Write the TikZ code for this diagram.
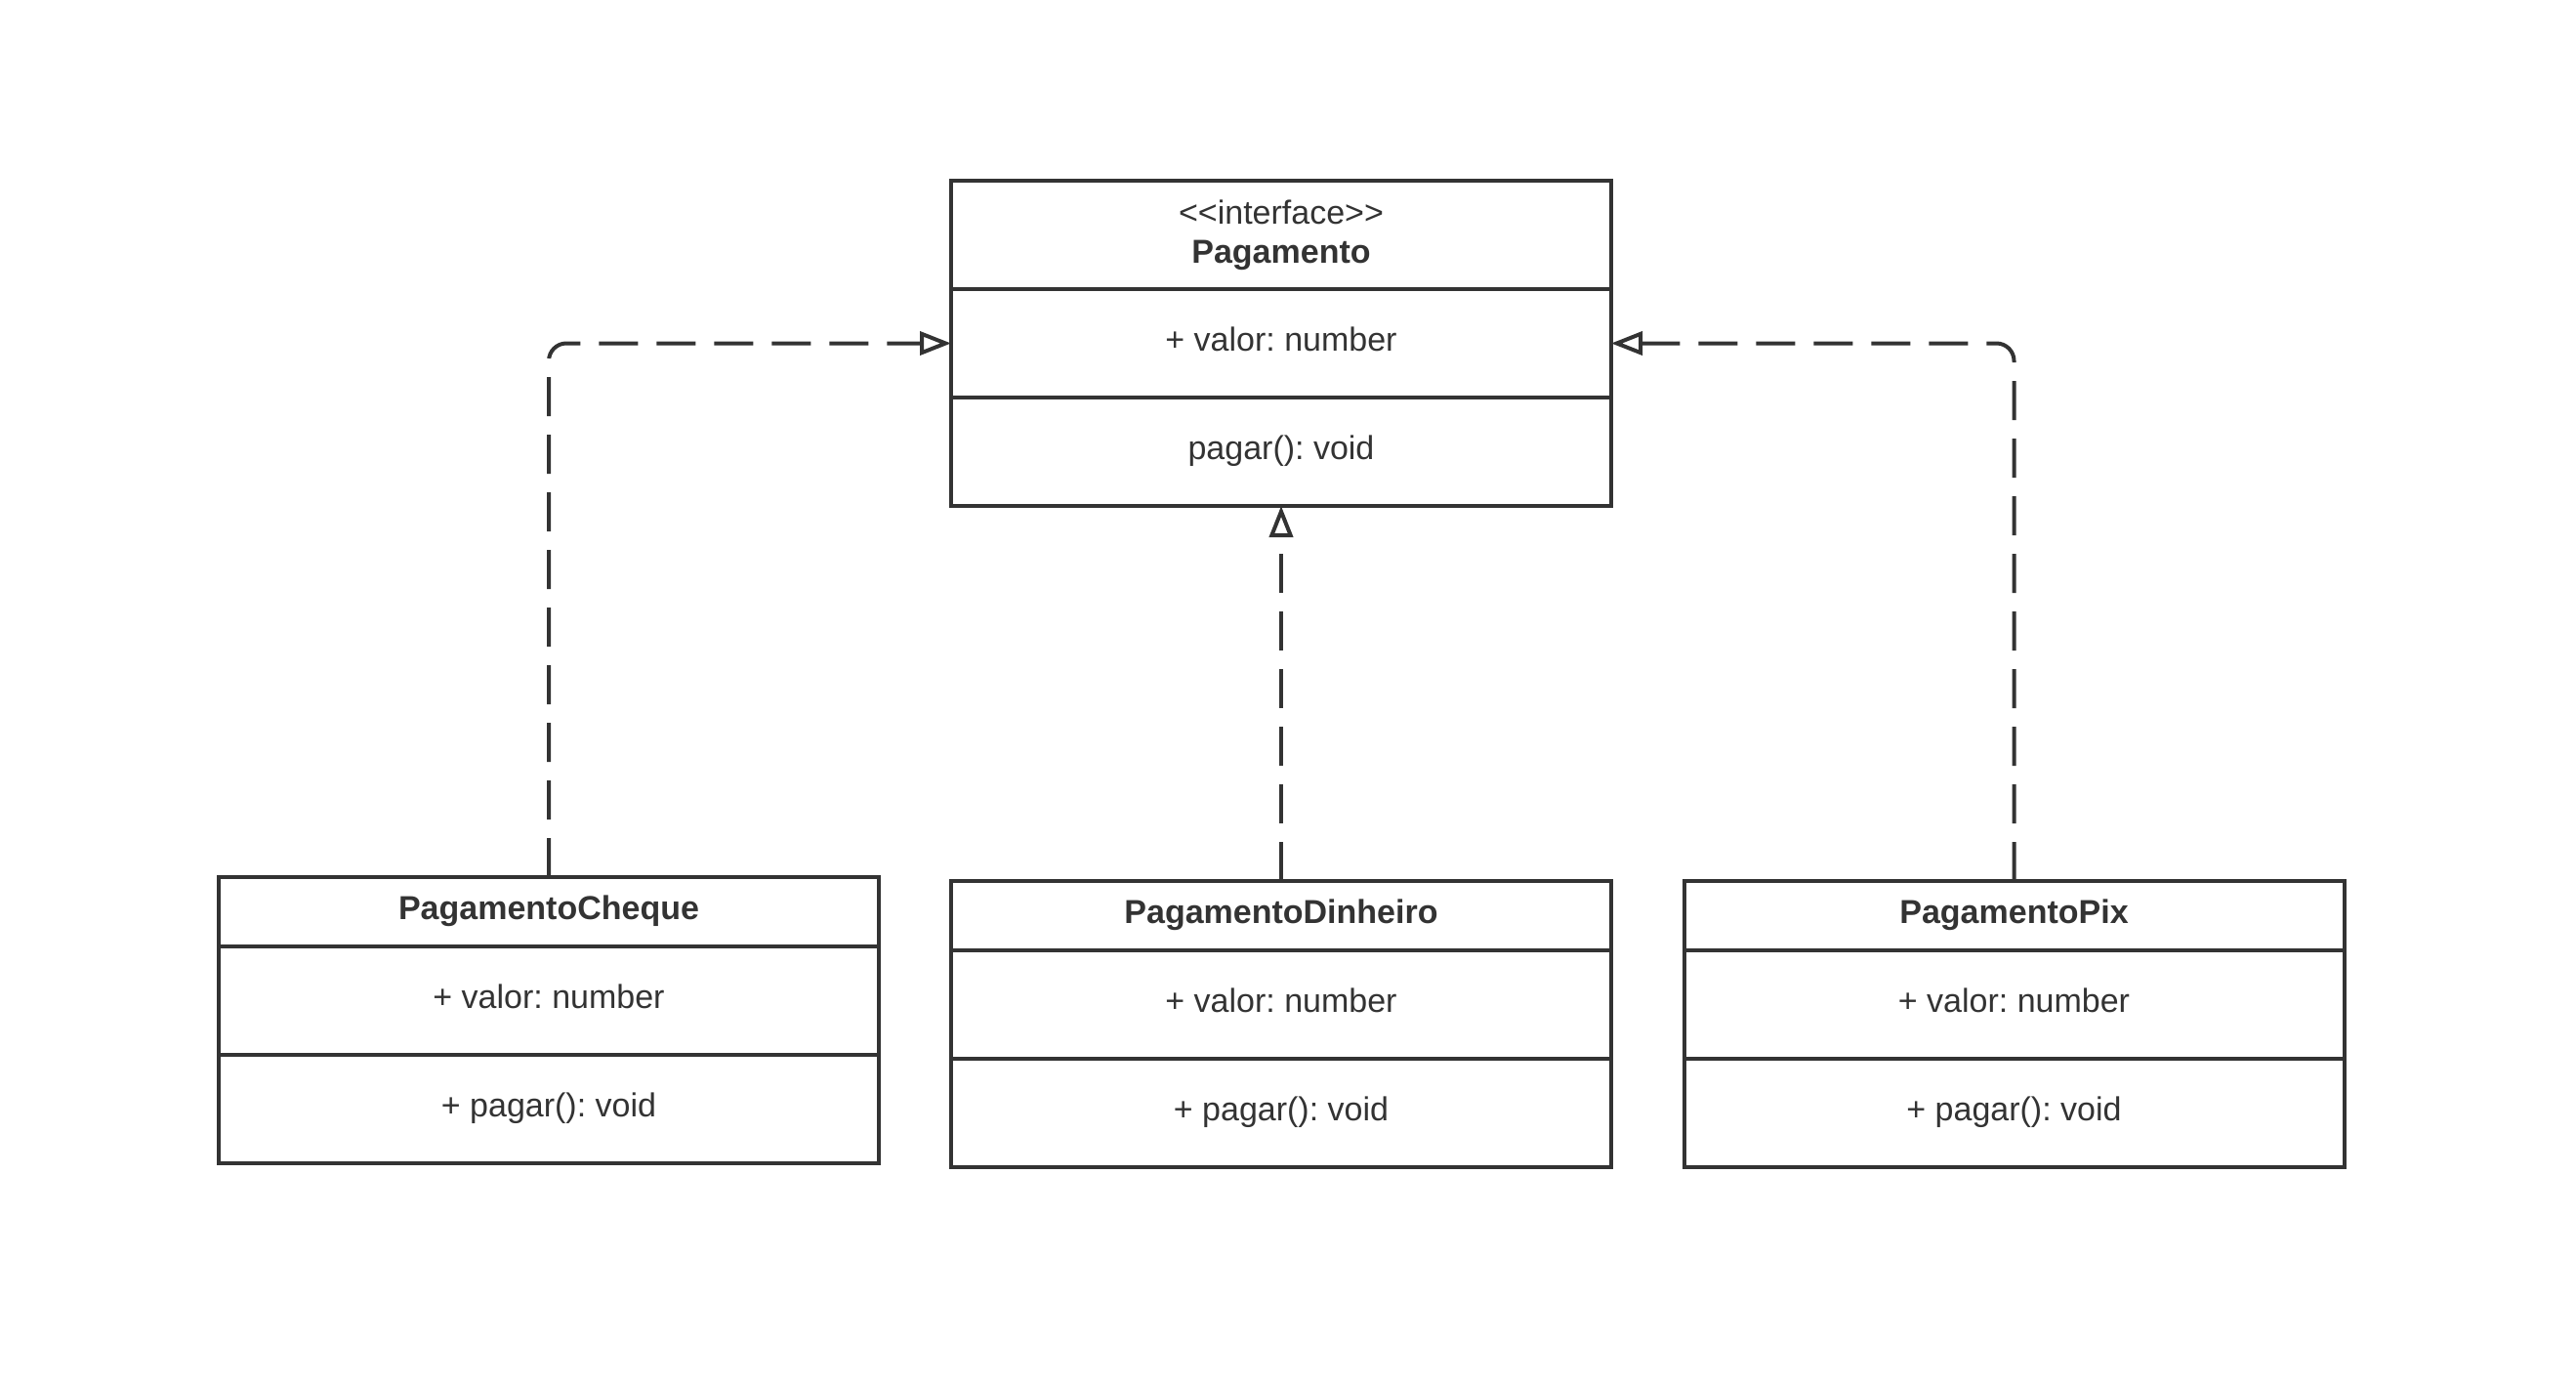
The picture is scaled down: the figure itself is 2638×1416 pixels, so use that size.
\documentclass[tikz,border=0pt]{standalone}
\usepackage{fontspec}
\setmainfont[Ligatures=NoCommon]{Liberation Sans}
\usetikzlibrary{arrows.meta,positioning}
\definecolor{ink}{HTML}{333333}
\frenchspacing
\tikzset{
  comp/.style={draw=ink, line width=4pt, text=ink, minimum width=676pt, inner sep=0pt, outer sep=0pt, align=center, font=\fontsize{34}{40}\selectfont},
  head/.style={comp, minimum height=71pt, text height=25pt, text depth=9pt, font=\fontsize{34}{40}\selectfont\bfseries},
  ihead/.style={comp, minimum height=111pt},
  body/.style={comp, minimum height=111pt, text height=25pt, text depth=9pt},
  dep/.style={draw=ink, line width=4pt, dash pattern=on 40pt off 19pt, rounded corners=18pt, -{Triangle[open, length=32pt, width=24pt, line width=4pt]}}
}
\begin{document}
\begin{tikzpicture}[x=1pt,y=-1pt]
\useasboundingbox (0,0) rectangle (2638,1416);
% interface
\node[ihead, anchor=north] (iH) at (1312,185) {{<}{<}interface{>}{>}\\\textbf{Pagamento}};
\node[body, below=0pt of iH] (iA) {+ valor: number};
\node[body, below=0pt of iA] (iM) {pagar(): void};
% cheque
\node[head, anchor=north] (cH) at (562,898) {PagamentoCheque};
\node[body, below=0pt of cH] (cA) {+ valor: number};
\node[body, below=0pt of cA] (cM) {+ pagar(): void};
% dinheiro
\node[head, anchor=north] (dH) at (1312,902) {PagamentoDinheiro};
\node[body, below=0pt of dH] (dA) {+ valor: number};
\node[body, below=0pt of dA] (dM) {+ pagar(): void};
% pix
\node[head, anchor=north] (pH) at (2062.5,902) {PagamentoPix};
\node[body, below=0pt of pH] (pA) {+ valor: number};
\node[body, below=0pt of pA] (pM) {+ pagar(): void};
% connectors
\draw[dep] (cH.north) |- (iA.west);
\draw[dep] (pH.north) |- (iA.east);
\draw[dep] (dH.north) -- (iM.south);
\end{tikzpicture}
\end{document}
